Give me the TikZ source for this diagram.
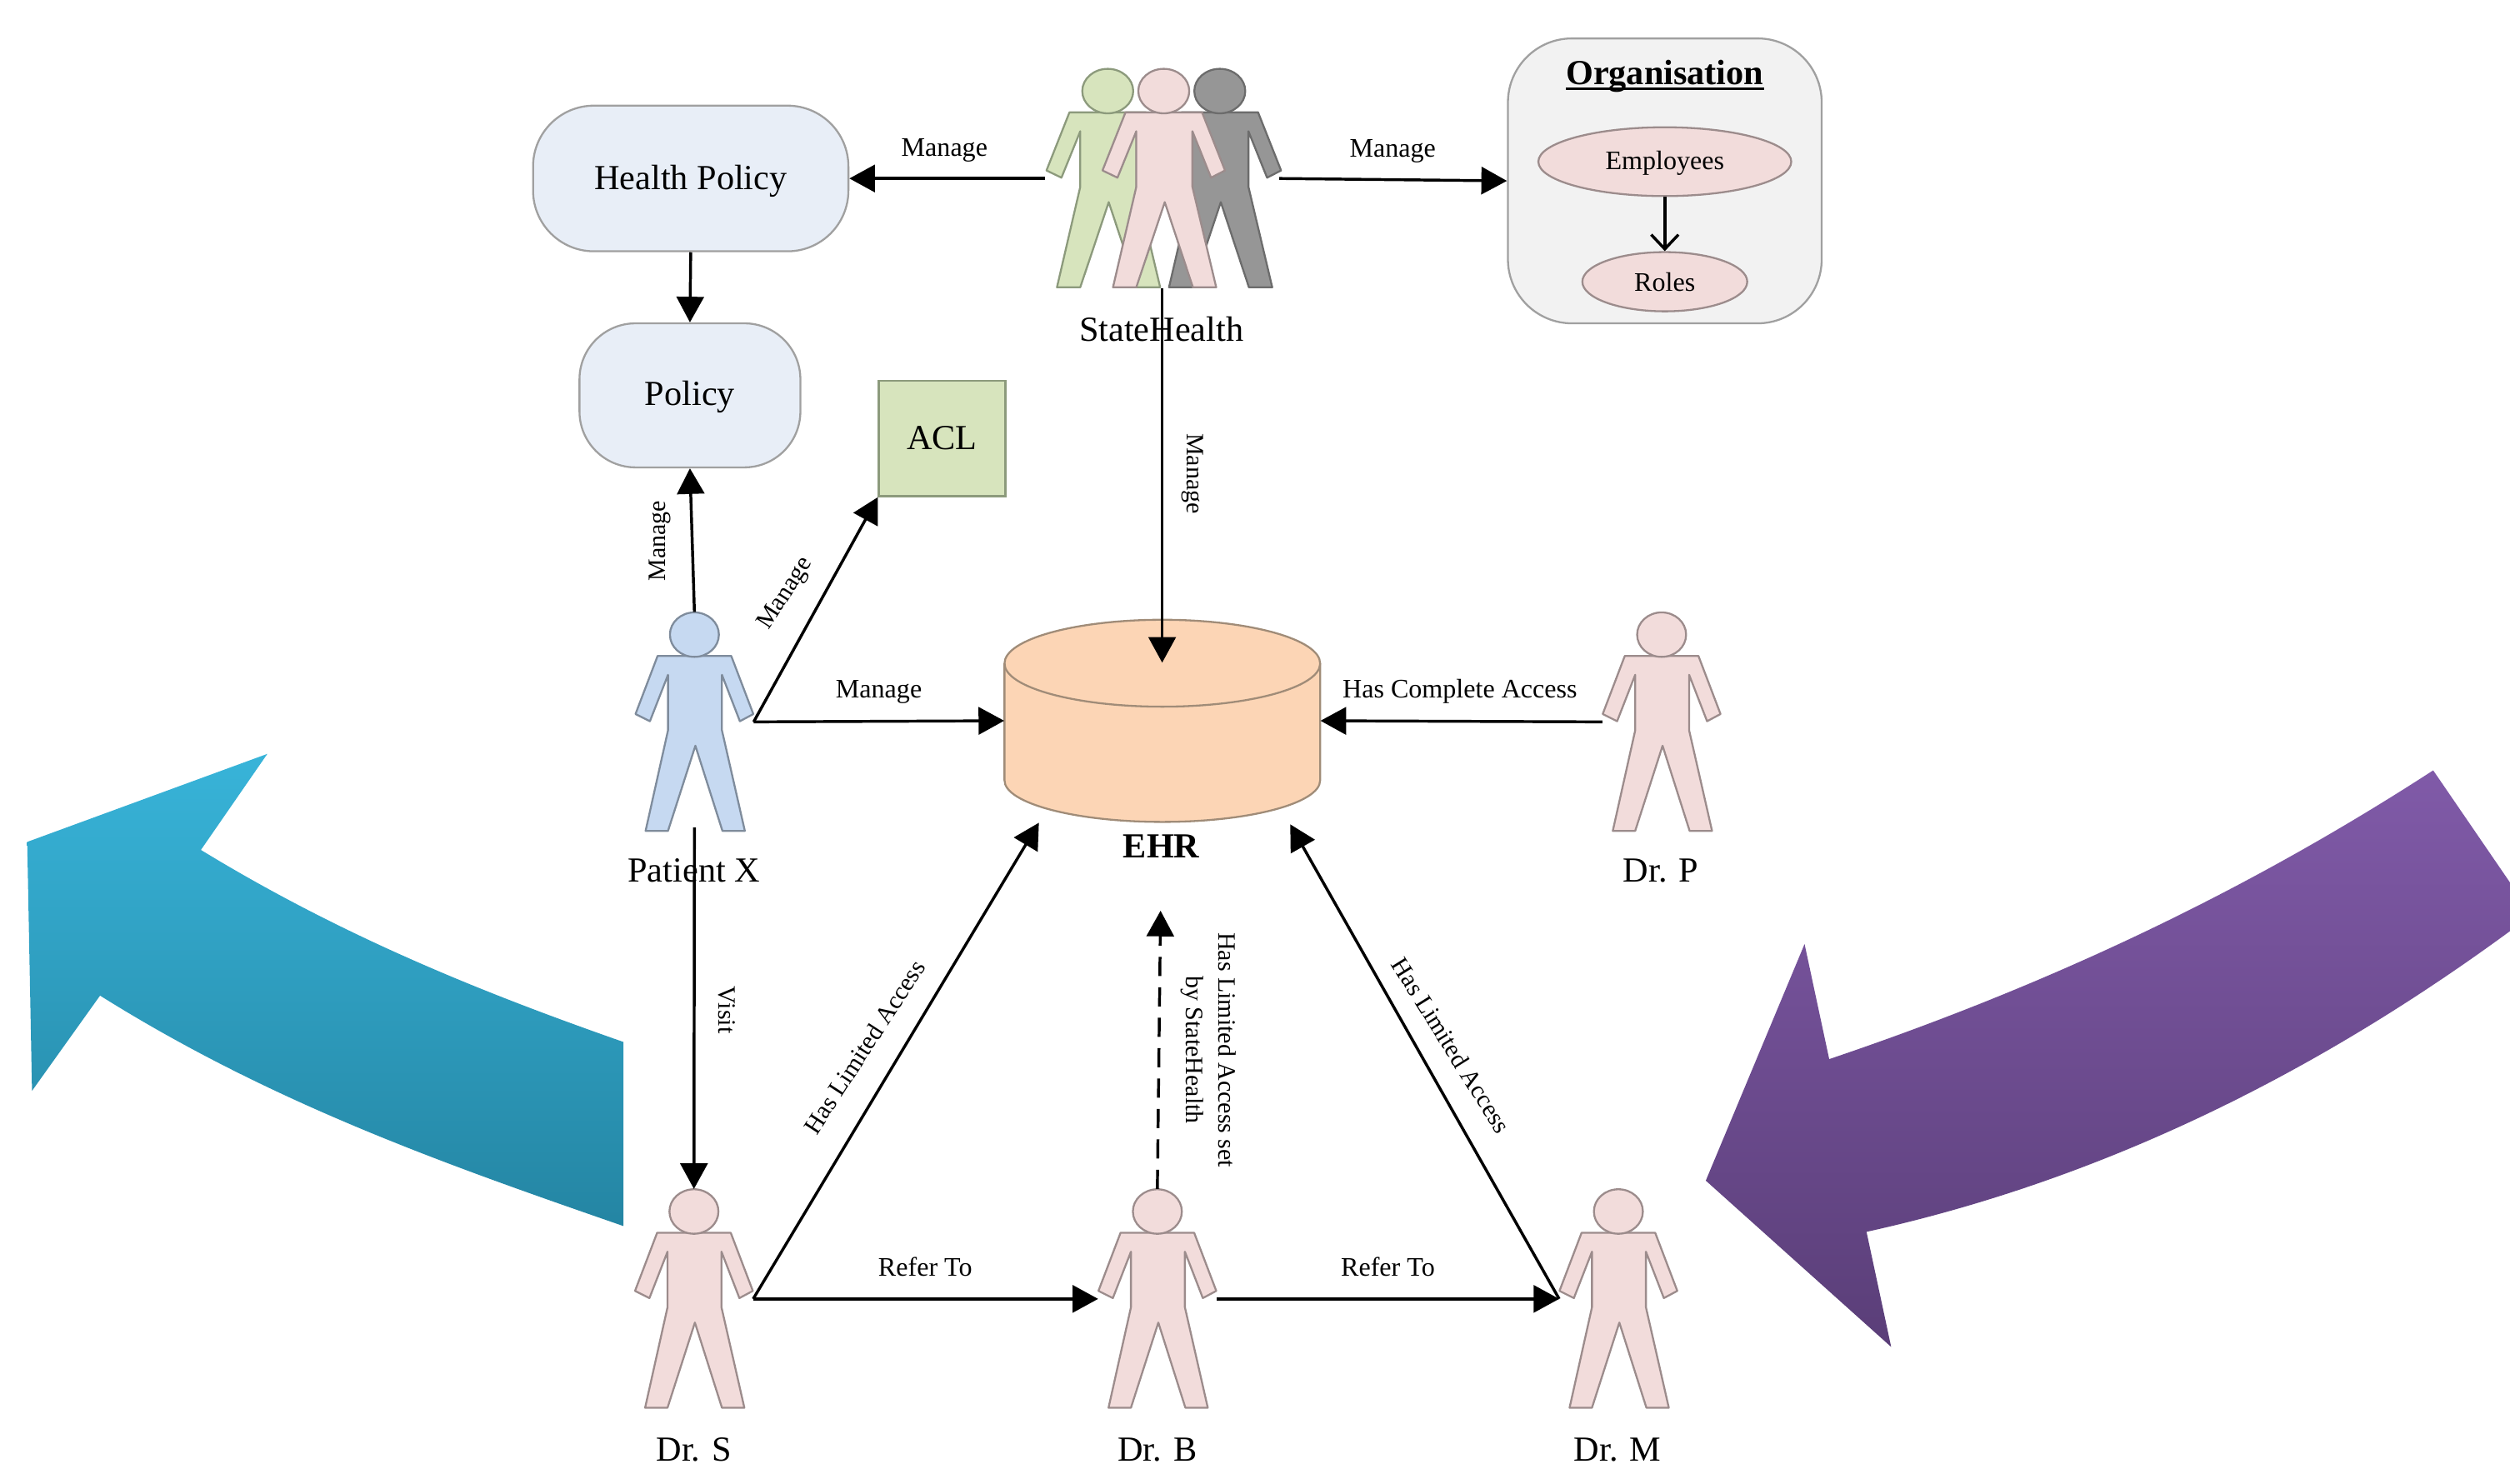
\documentclass[tikz,border=0pt]{standalone}
\usepackage{fontspec}
\setmainfont{Liberation Serif}
\usetikzlibrary{arrows.meta,shapes.geometric}
\definecolor{bluefill}{HTML}{C6D9F1}\definecolor{bluedraw}{HTML}{7F8C9C}
\definecolor{pinkfill}{HTML}{F2DCDB}\definecolor{pinkdraw}{HTML}{9C8C8C}
\definecolor{greenfill}{HTML}{D7E4BD}\definecolor{greendraw}{HTML}{8C9A7C}
\definecolor{grayfill}{HTML}{969696}\definecolor{graydraw}{HTML}{6C6C6C}
\definecolor{policyfill}{HTML}{E8EEF7}\definecolor{boxdraw}{HTML}{A0A0A0}
\definecolor{orgfill}{HTML}{F2F2F2}
\definecolor{ehrfill}{HTML}{FCD5B5}\definecolor{ehrdraw}{HTML}{A08C78}
\tikzset{
  arr/.style={draw=black,line width=1.8pt,-{Triangle[length=16pt,width=17pt]}},
  openarr/.style={draw=black,line width=1.8pt,-{Straight Barb[length=9pt,width=17pt,line width=1.8pt]}},
  dasharr/.style={arr,dash pattern=on 12pt off 7pt},
  personbox/.style={inner sep=0pt,minimum width=73.6pt,minimum height=137pt},
  lbl/.style={inner sep=0pt,anchor=base,font=\fontsize{16.7}{19}\selectfont},
  rlbl/.style={inner sep=0pt,anchor=center,font=\fontsize{15.6}{20}\selectfont,align=center},
  name label/.style={inner sep=0pt,anchor=base,font=\fontsize{22}{25}\selectfont},
  softbox/.style={draw=boxdraw,line width=1.2pt,fill=policyfill,inner sep=0pt,font=\fontsize{22}{25}\selectfont},
  pinkoval/.style={draw=pinkdraw,line width=1.2pt,fill=pinkfill,ellipse,inner sep=0pt,font=\fontsize{16.7}{19}\selectfont},
}
\def\figwide{1}
\newcommand{\personfig}[4]{%
  \begin{scope}[shift={(#1,#2)},xscale=\figwide]
    \path[fill=#3,draw=#4,line width=1.2pt,line join=round]
      (-23,27.2) -- (23,27.2) -- (36.8,63.5) -- (28.4,68) -- (17.2,39) -- (17.2,73.7)
      -- (31.5,136.5) -- (17.5,136.5) -- (0.6,83.3) -- (-16.5,136.5) -- (-30.5,136.5)
      -- (-16.5,73.7) -- (-16.5,39) -- (-27.8,68) -- (-36.8,63.5) -- cycle;
    \path[fill=#3,draw=#4,line width=1.2pt] (0,13.9) ellipse (15.3 and 13.9);
  \end{scope}}
\begin{document}
\begin{tikzpicture}[x=1pt,y=-1pt]
\useasboundingbox (0,0) rectangle (1568,927.15);
% large arrows
\shade[top color={rgb,255:red,56;green,180;blue,217},bottom color={rgb,255:red,36;green,133;blue,163}]
  (17,526) -- (167,471) -- (125.5,531) .. controls (214,585) and (301,620) .. (389.5,651)
  -- (389.5,766) .. controls (280,728) and (171,690) .. (62.5,622) -- (20,681.5) -- cycle;
\shade[top color={rgb,255:red,128;green,90;blue,168},bottom color={rgb,255:red,90;green,62;blue,120}]
  (1520,481.3) -- (1568,551.4) -- (1568,581.7) .. controls (1434,680) and (1300,740) .. (1166,769.6)
  -- (1181.4,841.5) -- (1065.6,737.6) -- (1127.3,589.8) -- (1142.7,661.7)
  .. controls (1269,619) and (1394,563) .. cycle;
% boxes
\node[softbox,rounded corners=38pt,minimum width=197pt,minimum height=91pt] (hp) at (431.5,111.5) {\raisebox{-1.8pt}[15pt][5pt]{Health Policy}};
\node[softbox,rounded corners=35pt,minimum width=138pt,minimum height=90pt] (pol) at (431,247) {\raisebox{-1.2pt}[15pt][5pt]{Policy}};
\node[softbox,draw=greendraw,fill=greenfill,minimum width=79pt,minimum height=72pt] (acl) at (588.5,274) {\raisebox{0.5pt}[15pt][0pt]{ACL}};
\node[draw=boxdraw,line width=1.2pt,fill=orgfill,rounded corners=40pt,minimum width=196pt,minimum height=178pt,inner sep=0pt] (org) at (1040,113) {};
\node[name label,font=\fontsize{22}{25}\selectfont\bfseries] (orgt) at (1040,53) {\rlap{\rule[-3.2pt]{124pt}{1.5pt}}Organisation};
\node[pinkoval,minimum width=158pt,minimum height=43pt] (emp) at (1040,101) {\raisebox{-1.3pt}[11pt][4pt]{Employees}};
\node[pinkoval,minimum width=103pt,minimum height=37pt] (rol) at (1040,176) {Roles};
% EHR cylinder
\path[fill=ehrfill,draw=ehrdraw,line width=1.2pt] (627.5,414.5) -- (627.5,487.5) arc[start angle=180,end angle=360,x radius=98.6,y radius=-26] -- (824.7,414.5) arc[start angle=0,end angle=180,x radius=98.6,y radius=-27.3] -- cycle;
\path[draw=ehrdraw,line width=1.2pt] (627.5,414.5) arc[start angle=180,end angle=360,x radius=98.6,y radius=-27];
\node[inner sep=0pt,minimum width=197.2pt,minimum height=126.6pt] (ehr) at (726.1,450.3) {};
\coordinate (ehrtop) at (726,414);
\coordinate (ehrsl) at (649,514);
\coordinate (ehrsr) at (806,515);
\coordinate (ehrdash) at (725,569);
% people
\def\figwide{1.04}
\personfig{762}{43}{grayfill}{graydraw}
\personfig{692}{43}{greenfill}{greendraw}
\personfig{727}{43}{pinkfill}{pinkdraw}
\def\figwide{1}
\node[inner sep=0pt,minimum width=146pt,minimum height=137pt] (state) at (726,111.5) {};
\personfig{433.8}{382.6}{bluefill}{bluedraw}
\node[personbox] (px) at (433.8,451) {};
\personfig{1038}{382.6}{pinkfill}{pinkdraw}
\node[personbox] (dp) at (1038,451) {};
\personfig{433.5}{743}{pinkfill}{pinkdraw}
\node[personbox] (ds) at (433.5,811.5) {};
\personfig{723}{743}{pinkfill}{pinkdraw}
\node[personbox] (db) at (723,811.5) {};
\personfig{1011}{743}{pinkfill}{pinkdraw}
\node[personbox] (dm) at (1011,811.5) {};
\coordinate (pxbelow) at (433.8,517);
% names
\node[name label] (nstate) at (725.5,213) {StateHealth};
\node[name label] (npx) at (433.5,551) {Patient X};
\node[name label] (ndp) at (1037.5,551) {Dr. P};
\node[name label,font=\fontsize{22}{25}\selectfont\bfseries] (nehr) at (725.5,536) {EHR};
\node[name label] (nds) at (433.5,913) {Dr. S};
\node[name label] (ndb) at (723,913) {Dr. B};
\node[name label] (ndm) at (1010.5,913) {Dr. M};
% connector labels
\node[lbl] (l1) at (590,97.5) {Manage};
\node[lbl] (l2) at (870,98) {Manage};
\node[lbl] (l3) at (549,436) {Manage};
\node[lbl] (l4) at (912,436) {Has Complete Access};
\node[lbl] (l5) at (578,797) {Refer To};
\node[lbl] (l6) at (867,797) {Refer To};
\node[rlbl,rotate=90] (l7) at (412,338) {Manage};
\node[rlbl,rotate=57] (l8) at (491,371) {Manage};
\node[rlbl,rotate=-90] (l9) at (745,296) {Manage};
\node[rlbl,rotate=-90] (l10) at (454,631) {Visit};
\node[rlbl,rotate=57] (l11) at (540,654) {Has Limited Access};
\node[rlbl,rotate=-58] (l12) at (906.5,653) {Has Limited Access};
\node[rlbl,rotate=-90] (l13) at (755,656) {Has Limited Access set\\by StateHealth};
% connectors
\draw[arr] (state.west) -- (hp.east);
\draw[arr] (state.east) -- (org.west);
\draw[arr] (hp.south) -- (pol.north);
\draw[arr] (px.north) -- (pol.south);
\draw[arr] (px.east) -- (acl.south west);
\draw[arr] (px.east) -- (ehr.west);
\draw[arr] (dp.west) -- (ehr.east);
\draw[arr] (state.south) -- (ehrtop);
\draw[arr] (pxbelow) -- (ds.north);
\draw[arr] (ds.east) -- (ehrsl);
\draw[arr] (ds.east) -- (db.west);
\draw[arr] (db.east) -- (dm.west);
\draw[arr] (dm.west) -- (ehrsr);
\draw[dasharr] (db.north) -- (ehrdash);
\draw[openarr] (emp.south) -- (rol.north);
\end{tikzpicture}
\end{document}
